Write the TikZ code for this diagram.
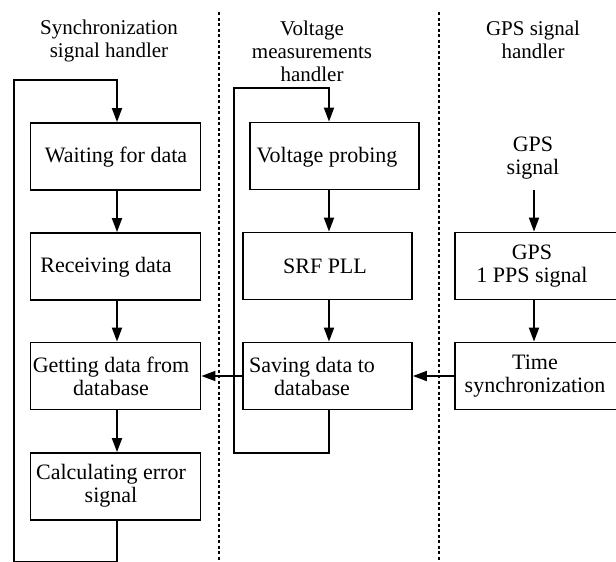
\documentclass[tikz,border=0pt]{standalone}
\usepackage{fontspec}
\setmainfont{Liberation Serif}
\usetikzlibrary{arrows.meta}
\begin{document}
\begin{tikzpicture}[x=1pt,y=-1pt,
  box/.style={draw, line width=1.8pt, inner sep=0pt, minimum height=67pt},
  txt/.style={align=center, inner sep=0pt, font=\fontsize{22}{23}\selectfont},
  title/.style={align=center, inner sep=0pt, font=\fontsize{21}{23}\selectfont},
  flow/.style={line width=1.8pt, -{Triangle[length=14pt,width=10pt]}},
  divider/.style={line width=2pt, dash pattern=on 3pt off 2.5pt}]
\useasboundingbox (0,0) rectangle (616,562);
\clip (0,0) rectangle (616,562);
% dividers
\coordinate (d1t) at (219,12); \coordinate (d1b) at (219,562);
\coordinate (d2t) at (439,12); \coordinate (d2b) at (439,562);
\draw[divider] (d1t) -- (d1b);
\draw[divider] (d2t) -- (d2b);
% titles
\node[title] (t1) at (109,41) {Synchronization\\signal handler};
\node[title] (t2) at (312,51) {Voltage\\measurements\\handler};
\node[title] (t3) at (533,39.5) {GPS signal\\handler};
% left column boxes
\node[box, minimum width=170pt] (L1) at (115.5,156.5) {};
\node[box, minimum width=170pt] (L2) at (115.5,266.5) {};
\node[box, minimum width=170pt] (L3) at (115.5,376) {};
\node[box, minimum width=170pt] (L4) at (115.5,486.5) {};
\node[txt] (L1t) at (116,157) {Waiting for data};
\node[txt] (L2t) at (106,267) {Receiving data};
\node[txt] (L3t) at (111,376) {Getting data from\\database};
\node[txt] (L4t) at (111,486) {Calculating error\\signal};
% middle column boxes
\node[box, minimum width=169pt] (M1) at (334.5,156) {};
\node[box, minimum width=169pt] (M2) at (327.5,266) {};
\node[box, minimum width=169pt] (M3) at (327.5,376) {};
\node[txt] (M1t) at (327,157) {Voltage probing};
\node[txt] (M2t) at (325,266) {SRF PLL};
\node[txt] (M3t) at (312,376) {Saving data to\\database};
% right column
\node[txt] (gps) at (533,158) {GPS\\signal};
\node[box, minimum width=162pt] (R1) at (536,266) {};
\node[box, minimum width=162pt] (R2) at (536,376) {};
\node[txt] (R1t) at (532,266) {GPS\\1 PPS signal};
\node[txt] (R2t) at (535,376) {Time\\synchronization};
% axes
\coordinate (lx) at (117,0);
\coordinate (mx) at (329,0);
\coordinate (rx) at (534,0);
% left flow
\draw[flow] (L1.south -| lx) -- (L2.north -| lx);
\draw[flow] (L2.south -| lx) -- (L3.north -| lx);
\draw[flow] (L3.south -| lx) -- (L4.north -| lx);
\coordinate (lb1) at (117,562);
\coordinate (lb2) at (14,562);
\coordinate (lt1) at (14,80);
\coordinate (lt2) at (117,80);
\draw[flow] (L4.south -| lx) -- (lb1) -- (lb2) -- (lt1) -- (lt2) -- (L1.north -| lx);
% middle flow
\draw[flow] (M1.south -| mx) -- (M2.north -| mx);
\draw[flow] (M2.south -| mx) -- (M3.north -| mx);
\coordinate (mb1) at (329,453);
\coordinate (mb2) at (234,453);
\coordinate (mt1) at (234,88);
\coordinate (mt2) at (329,88);
\draw[flow] (M3.south -| mx) -- (mb1) -- (mb2) -- (mt1) -- (mt2) -- (M1.north -| mx);
% right flow
\coordinate (gpsa) at (534,190);
\draw[flow] (gpsa) -- (R1.north -| rx);
\draw[flow] (R1.south -| rx) -- (R2.north -| rx);
% cross links
\draw[flow] (R2.west) -- (M3.east);
\draw[flow] (M3.west) -- (L3.east);
\end{tikzpicture}
\end{document}
